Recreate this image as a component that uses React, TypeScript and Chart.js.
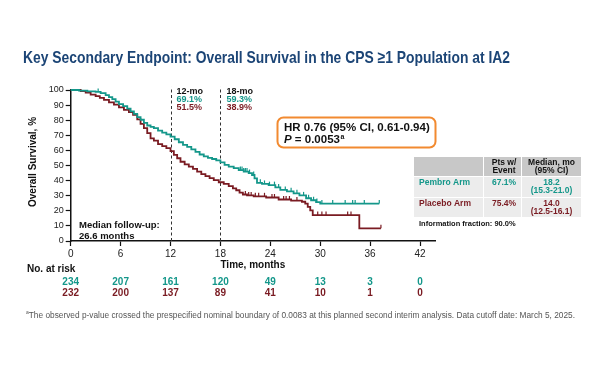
import React, { useEffect, useRef } from 'react';
import { Chart, registerables } from 'chart.js';

Chart.register(...registerables);

const TEAL = '#14978a';
const MAROON = '#7a1b22';
const TITLE_BLUE = '#1c4576';
const FONT = '"Liberation Sans", Arial, sans-serif';

const monthTicks = [0, 6, 12, 18, 24, 30, 36, 42];
const survivalTicks = [0, 10, 20, 30, 40, 50, 60, 70, 80, 90, 100];

const pembroTimes = [0, 1.0, 2.0, 3.0, 3.6, 4.2, 4.6, 5.0, 5.4, 5.8, 6.3, 6.8, 7.2, 7.6, 8.0, 8.4, 8.8, 9.2, 9.6, 10.0, 10.5, 11.0, 11.5, 12.0, 12.5, 13.0, 13.5, 14.0, 14.5, 15.0, 15.5, 16.0, 16.5, 17.0, 17.5, 18.0, 18.5, 19.0, 19.6, 20.2, 20.8, 21.4, 21.8, 22.1, 22.4, 23.0, 23.8, 24.6, 25.2, 26.0, 26.8, 27.5, 28.3, 28.9, 29.5, 30.0, 37.1];
const pembroSurv = [100, 99.6, 99.1, 98.7, 97.9, 96.6, 95.3, 94.0, 92.3, 90.6, 89.3, 87.6, 85.9, 84.2, 82.1, 80.3, 78.2, 76.5, 75.6, 74.8, 73.1, 71.8, 70.6, 69.1, 67.4, 65.4, 63.6, 62.4, 60.7, 59.0, 57.3, 56.0, 55.0, 54.3, 53.4, 52.1, 50.4, 49.2, 48.3, 47.0, 46.0, 45.0, 43.7, 41.5, 38.5, 37.8, 37.0, 35.5, 33.8, 32.9, 31.6, 30.2, 28.3, 27.0, 25.8, 24.8, 24.8];

const placeboTimes = [0, 1.2, 1.8, 2.4, 3.0, 3.5, 4.0, 4.6, 5.2, 5.8, 6.4, 7.0, 7.5, 8.0, 8.4, 8.8, 9.2, 9.6, 10.0, 10.5, 11.0, 11.5, 12.0, 12.4, 12.8, 13.2, 13.7, 14.2, 14.7, 15.2, 15.7, 16.2, 16.7, 17.2, 17.8, 18.4, 19.0, 19.5, 19.9, 20.3, 20.7, 21.2, 22.0, 23.5, 25.0, 26.5, 27.8, 28.2, 28.5, 28.8, 29.1, 34.7, 37.3];
const placeboSurv = [100, 99.2, 98.2, 97.0, 96.0, 94.8, 93.5, 91.8, 90.3, 88.5, 86.8, 85.4, 83.5, 80.5, 77.6, 74.8, 71.5, 68.0, 66.5, 64.2, 62.8, 61.5, 59.5, 57.0, 54.8, 52.5, 50.8, 49.3, 47.8, 46.0, 44.3, 42.9, 41.6, 40.3, 38.9, 37.8, 36.3, 34.8, 33.6, 32.0, 30.8, 30.2, 29.6, 28.8, 27.5, 26.8, 26.0, 24.8, 22.6, 20.3, 17.2, 8.4, 8.4];

const pembroCensor = [3.3, 20.4, 20.6, 20.8, 21.0, 21.2, 21.5, 22.0, 22.8, 23.3, 23.9, 24.5, 25.0, 25.8, 26.5, 27.2, 28.0, 28.6, 29.2, 29.6, 30.2, 31.5, 33.0, 33.9, 34.2, 35.3, 37.1];
const placeboCensor = [21.0, 21.4, 21.7, 22.2, 22.6, 23.3, 24.2, 24.5, 25.6, 25.9, 26.3, 27.2, 29.7, 30.2, 30.7, 33.3, 33.7, 37.3];

const pembroAtRisk = [234, 207, 161, 120, 49, 13, 3, 0];
const placeboAtRisk = [232, 200, 137, 89, 41, 10, 1, 0];

const landmarkMonths = [12, 18];
const landmarkLabels = ['12-mo', '18-mo'];
const pembroLandmark = ['69.1%', '59.3%'];
const placeboLandmark = ['51.5%', '38.9%'];

const armNames = ['Pembro Arm', 'Placebo Arm'];
const armEventPct = ['67.1%', '75.4%'];
const armMedian = ['18.2', '14.0'];
const armMedianCI = ['(15.3-21.0)', '(12.5-16.1)'];

function survAt(times: number[], surv: number[], t: number) {
  let v = surv[0];
  for (let i = 0; i < times.length; i++) {
    if (times[i] <= t) v = surv[i];
  }
  return v;
}

function fitText(ctx: CanvasRenderingContext2D, text: string, x: number, y: number, width: number) {
  const w = ctx.measureText(text).width;
  ctx.save();
  ctx.translate(x, y);
  ctx.scale(width / w, 1);
  ctx.textAlign = 'left';
  ctx.fillText(text, 0, 0);
  ctx.restore();
}

const overlayPlugin = {
  id: 'overlay',
  beforeDatasetsDraw(chart: any) {
    const { ctx, scales } = chart;
    const x = scales.x;
    const y = scales.y;
    ctx.save();
    ctx.setLineDash([3, 2.5]);
    ctx.strokeStyle = '#333';
    ctx.lineWidth = 1;
    landmarkMonths.forEach((m) => {
      const px = Math.round(x.getPixelForValue(m)) + 0.5;
      ctx.beginPath();
      ctx.moveTo(px, y.getPixelForValue(0));
      ctx.lineTo(px, y.getPixelForValue(102));
      ctx.stroke();
    });
    ctx.restore();
  },
  afterDraw(chart: any) {
    const { ctx, scales } = chart;
    const x = scales.x;
    const y = scales.y;
    ctx.save();
    ctx.textBaseline = 'middle';

    // Title
    ctx.fillStyle = TITLE_BLUE;
    ctx.font = `bold 17px "Liberation Sans Narrow", ${FONT}`;
    ctx.textBaseline = 'alphabetic';
    fitText(ctx, 'Key Secondary Endpoint: Overall Survival in the CPS \u22651 Population at IA2', 23, 62.5, 487);
    ctx.textBaseline = 'middle';

    // Landmark labels
    ctx.font = `bold 9px ${FONT}`;
    ctx.textAlign = 'left';
    landmarkMonths.forEach((m, i) => {
      const px = x.getPixelForValue(m) + 6;
      ctx.fillStyle = '#111';
      ctx.fillText(landmarkLabels[i], px, 92);
      ctx.fillStyle = TEAL;
      ctx.fillText(pembroLandmark[i], px, 100);
      ctx.fillStyle = MAROON;
      ctx.fillText(placeboLandmark[i], px, 107.5);
    });

    // Y title
    ctx.save();
    ctx.translate(33, 162);
    ctx.rotate(-Math.PI / 2);
    ctx.textAlign = 'center';
    ctx.fillStyle = '#111';
    ctx.font = `bold 10px ${FONT}`;
    ctx.fillText('Overall Survival, %', 0, 0);
    ctx.restore();

    // X title
    ctx.textAlign = 'center';
    ctx.fillStyle = '#111';
    ctx.font = `bold 10px ${FONT}`;
    ctx.fillText('Time, months', (x.left + x.right) / 2, 265);

    // Median follow-up
    ctx.textAlign = 'left';
    ctx.font = `bold 9.5px ${FONT}`;
    ctx.fillText('Median follow-up:', 79, 225.5);
    ctx.fillText('26.6 months', 79, 236);

    // HR box
    ctx.strokeStyle = '#f28a30';
    ctx.lineWidth = 2;
    ctx.beginPath();
    ctx.roundRect(277.5, 117.5, 158, 30, 6);
    ctx.stroke();
    ctx.fillStyle = '#111';
    ctx.font = `bold 11.5px ${FONT}`;
    ctx.fillText('HR 0.76 (95% CI, 0.61-0.94)', 284, 127.5);
    ctx.font = `italic bold 11.5px ${FONT}`;
    ctx.fillText('P', 284, 140);
    const pw = ctx.measureText('P').width;
    ctx.font = `bold 11.5px ${FONT}`;
    const rest = ' = 0.0053';
    ctx.fillText(rest, 284 + pw, 140);
    const rw = ctx.measureText(rest).width;
    ctx.font = `bold 7px ${FONT}`;
    ctx.fillText('a', 284 + pw + rw + 0.5, 137);

    // Table
    const cols = [414, 484, 522, 581];
    const rows = [157, 177, 198, 218];
    ctx.fillStyle = '#c8c8c8';
    ctx.fillRect(cols[0], rows[0], cols[1] - cols[0] - 1, rows[1] - rows[0] - 1);
    ctx.fillRect(cols[1], rows[0], cols[2] - cols[1] - 1, rows[1] - rows[0] - 1);
    ctx.fillRect(cols[2], rows[0], cols[3] - cols[2], rows[1] - rows[0] - 1);
    ctx.fillStyle = '#ececec';
    for (let r = 1; r < 3; r++) {
      for (let c = 0; c < 3; c++) {
        ctx.fillRect(cols[c], rows[r], cols[c + 1] - cols[c] - (c < 2 ? 1 : 0), rows[r + 1] - rows[r] - 1);
      }
    }
    ctx.fillStyle = '#111';
    ctx.font = `bold 8.5px ${FONT}`;
    ctx.textAlign = 'center';
    const c2 = (cols[1] + cols[2]) / 2 + 1;
    const c3 = (cols[2] + cols[3]) / 2;
    ctx.fillText('Pts w/', c2, 162.5);
    ctx.fillText('Event', c2, 171);
    ctx.fillText('Median, mo', c3, 162.5);
    ctx.fillText('(95% CI)', c3, 171);
    const armColors = [TEAL, MAROON];
    armNames.forEach((name, i) => {
      const top = rows[i + 1];
      ctx.fillStyle = armColors[i];
      ctx.font = `bold 8.5px ${FONT}`;
      ctx.textAlign = 'left';
      ctx.fillText(name, 419, top + 5.5);
      ctx.textAlign = 'center';
      ctx.fillText(armEventPct[i], c2, top + 5.5);
      ctx.fillText(armMedian[i], c3, top + 5.5);
      ctx.fillText(armMedianCI[i], c3, top + 14);
    });
    ctx.fillStyle = '#111';
    ctx.textAlign = 'left';
    ctx.font = `bold 7.5px ${FONT}`;
    ctx.fillText('Information fraction: 90.0%', 419, 223.5);

    // Number at risk
    ctx.font = `bold 10px ${FONT}`;
    ctx.fillStyle = '#111';
    ctx.fillText('No. at risk', 27, 269.5);
    ctx.textAlign = 'center';
    monthTicks.forEach((m, i) => {
      const px = x.getPixelForValue(m);
      ctx.fillStyle = TEAL;
      ctx.fillText(String(pembroAtRisk[i]), px, 282);
      ctx.fillStyle = MAROON;
      ctx.fillText(String(placeboAtRisk[i]), px, 293.5);
    });

    // Footnote
    ctx.fillStyle = '#555';
    ctx.textBaseline = 'alphabetic';
    ctx.font = `5px ${FONT}`;
    const aw = ctx.measureText('a').width;
    ctx.textAlign = 'left';
    ctx.fillText('a', 26, 314);
    ctx.font = `8.3px "Liberation Sans Narrow", ${FONT}`;
    fitText(
      ctx,
      'The observed p-value crossed the prespecified nominal boundary of 0.0083 at this planned second interim analysis. Data cutoff date: March 5, 2025.',
      26 + aw,
      317.5,
      549 - aw
    );
    ctx.restore();
  },
};

export default function App() {
  const ref = useRef<HTMLCanvasElement | null>(null);
  useEffect(() => {
    if (!ref.current) return;
    const pembroLine = pembroTimes.map((t, i) => ({ x: t, y: pembroSurv[i] }));
    const placeboLine = placeboTimes.map((t, i) => ({ x: t, y: placeboSurv[i] }));
    const pembroMarks = pembroCensor.map((t) => ({ x: t, y: survAt(pembroTimes, pembroSurv, t) }));
    const placeboMarks = placeboCensor.map((t) => ({ x: t, y: survAt(placeboTimes, placeboSurv, t) }));
    const chart = new Chart(ref.current, {
      type: 'line',
      data: {
        datasets: [
          {
            label: 'Pembro',
            data: pembroLine,
            borderColor: TEAL,
            borderWidth: 1.8,
            stepped: 'before',
            pointRadius: 0,
            fill: false,
            clip: false,
          },
          {
            label: 'Placebo',
            data: placeboLine,
            borderColor: MAROON,
            borderWidth: 1.8,
            stepped: 'before',
            pointRadius: 0,
            fill: false,
            clip: false,
          },
          {
            label: 'Pembro censored',
            data: pembroMarks,
            showLine: false,
            pointStyle: 'dash',
            rotation: -90,
            pointRadius: 3.5,
            borderColor: TEAL,
            pointBorderWidth: 1.2,
            clip: false,
          },
          {
            label: 'Placebo censored',
            data: placeboMarks,
            showLine: false,
            pointStyle: 'dash',
            rotation: -90,
            pointRadius: 3.5,
            borderColor: MAROON,
            pointBorderWidth: 1.2,
            clip: false,
          },
        ],
      },
      options: {
        responsive: false,
        animation: false,
        devicePixelRatio: 1,
        layout: { padding: { left: 0, top: 90, right: 165, bottom: 104 } },
        plugins: { legend: { display: false }, tooltip: { enabled: false } },
        elements: { point: { hitRadius: 0, hoverRadius: 0 } },
        scales: {
          x: {
            type: 'linear',
            min: 0,
            max: 43.8,
            afterFit: (s: any) => {
              s.height = 20;
            },
            afterBuildTicks: (s: any) => {
              s.ticks = monthTicks.map((v) => ({ value: v }));
            },
            ticks: {
              color: '#222',
              font: { family: FONT, size: 10 },
              padding: 2,
              maxRotation: 0,
              autoSkip: false,
            },
            grid: { drawOnChartArea: false, tickLength: 5, color: '#111', tickWidth: 1.2 },
            border: { display: true, color: '#111', width: 1.5 },
          },
          y: {
            min: 0,
            max: 100,
            afterFit: (s: any) => {
              s.width = 70.7;
            },
            afterBuildTicks: (s: any) => {
              s.ticks = survivalTicks.map((v) => ({ value: v }));
            },
            ticks: {
              color: '#222',
              font: { family: FONT, size: 9 },
              padding: 2,
              autoSkip: false,
            },
            grid: { drawOnChartArea: false, tickLength: 5, color: '#111', tickWidth: 1.2 },
            border: { display: true, color: '#111', width: 1.5 },
          },
        },
      },
      plugins: [overlayPlugin],
    });
    return () => chart.destroy();
  }, []);
  return (
    <div style={{ position: 'absolute', left: 0, top: 0, width: 600, height: 365, background: '#fff' }}>
      <canvas ref={ref} width={600} height={365} style={{ width: 600, height: 365, display: 'block' }} />
    </div>
  );
}
